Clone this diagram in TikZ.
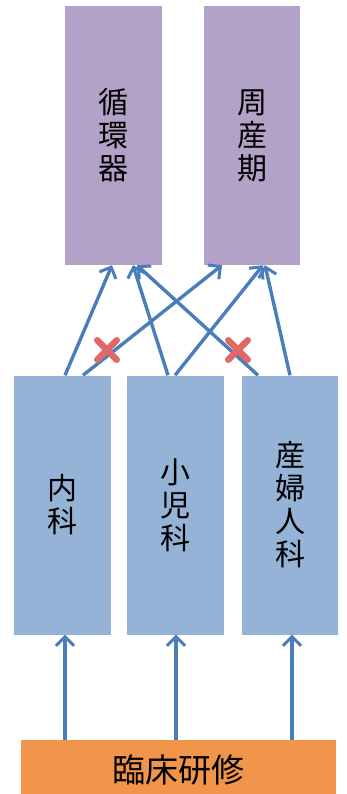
\documentclass[tikz,border=0pt]{standalone}
\usepackage{fontspec}
\newfontfamily\cjk{Noto Sans CJK JP}
\usetikzlibrary{arrows.meta,shapes.misc}
\definecolor{purp}{HTML}{B3A2C7}
\definecolor{bluebox}{HTML}{95B3D7}
\definecolor{orangebox}{HTML}{F0954A}
\definecolor{arrowc}{HTML}{4A7EBB}
\definecolor{crossc}{HTML}{E06868}
\tikzset{
  boxbase/.style={rectangle, inner sep=0pt, align=center, font=\cjk\fontsize{30}{33}\selectfont},
  purpbox/.style={boxbase, fill=purp, minimum height=259pt},
  bluebx/.style={boxbase, fill=bluebox, minimum height=259pt},
  orangebx/.style={boxbase, fill=orangebox, minimum width=315pt, minimum height=60pt, font=\cjk\fontsize{33}{36}\selectfont},
  conn/.style={draw=arrowc, line width=3.4pt, -{Straight Barb[length=9pt,width=18pt,line width=3pt]}},
  crossmark/.style={cross out, draw=crossc, line width=6.5pt, minimum size=13pt, inner sep=0pt, line cap=round}
}
\begin{document}
\begin{tikzpicture}[x=1pt,y=-1pt]
\useasboundingbox (0,0) rectangle (347,794);
\fill[white] (0,0) rectangle (347,794);
% top boxes
\node[purpbox, minimum width=97pt] (p1) at (113.5,135.5) {循\\環\\器};
\node[purpbox, minimum width=96pt] (p2) at (252,135.5) {周\\産\\期};
% middle boxes
\node[bluebx, minimum width=97pt] (b1) at (62.5,505) {内\\科};
\node[bluebx, minimum width=97pt] (b2) at (175.5,505) {小\\児\\科};
\node[bluebx, minimum width=96pt] (b3) at (290,505) {産\\婦\\人\\科};
% bottom box
\begin{scope}
\clip (0,0) rectangle (347,794);
\node[orangebx] (o) at (178.5,770) {臨床研修};
\end{scope}
% arrows from bottom
\draw[conn] ([xshift=-113.5pt]o.north) -- ([xshift=2.5pt]b1.south);
\draw[conn] ([xshift=-2.5pt]o.north) -- ([xshift=0.5pt]b2.south);
\draw[conn] ([xshift=113.5pt]o.north) -- ([xshift=2pt]b3.south);
% arrows to top
\draw[conn] ([xshift=2.5pt]b1.north) -- ([xshift=-1.5pt]p1.south);
\draw[conn] ([xshift=20.5pt]b1.north) -- ([xshift=-30pt]p2.south);
\draw[conn] ([xshift=-7.5pt]b2.north) -- ([xshift=19.5pt]p1.south);
\draw[conn] ([xshift=-0.5pt]b2.north) -- ([xshift=11pt]p2.south);
\draw[conn] ([xshift=-32pt]b3.north) -- ([xshift=23.5pt]p1.south);
\draw[conn] ([xshift=0pt]b3.north) -- ([xshift=13pt]p2.south);
% cross marks
\node[crossmark] (x1) at (107,350) {};
\node[crossmark] (x2) at (238,350) {};
\end{tikzpicture}
\end{document}
